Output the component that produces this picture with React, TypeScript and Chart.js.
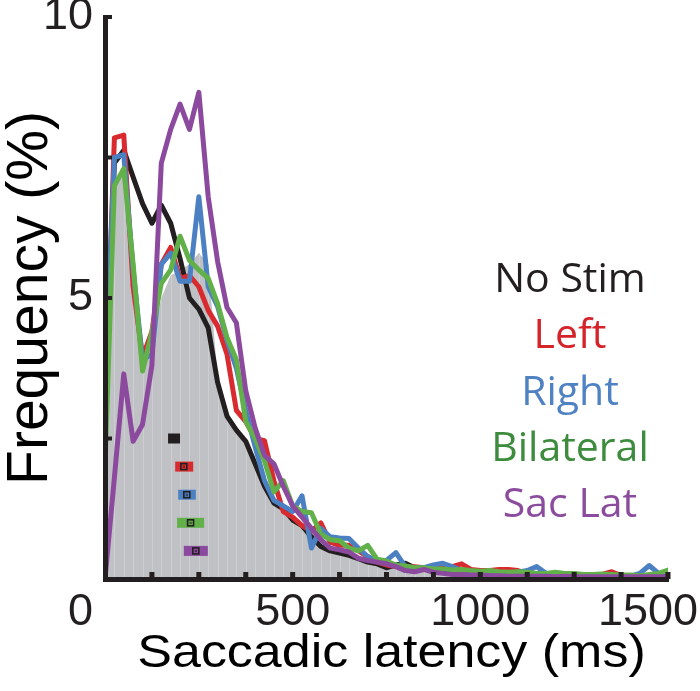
import React, { useEffect, useRef } from "react";
import { Chart, registerables } from "chart.js";

Chart.register(...registerables);

// Bin positions (ms)
const latencyMs = [
  0, 25, 50, 75, 100, 125, 150, 175, 200, 225, 250, 275, 300, 325, 350, 375, 400, 425, 450, 475,
  500, 525, 550, 575, 600, 625, 650, 675, 700, 725, 750, 775, 800, 825, 850, 875, 900, 925, 950, 975,
  1000, 1025, 1050, 1075, 1100, 1125, 1150, 1175, 1200, 1225, 1250, 1275, 1300, 1325, 1350, 1375, 1400, 1425, 1450, 1475,
  1500,
];

// Gray background distribution (%)
const grayArea = [
  3.5, 7.0, 7.2, 5.3, 3.7, 4.2, 5.0, 5.4, 5.5, 5.6, 5.8, 5.6, 3.6, 2.9, 2.65, 2.45, 2.05, 1.65, 1.35, 1.2,
  1.05, 0.9, 0.72, 0.55, 0.48, 0.45, 0.4, 0.33, 0.28, 0.24, 0.2,
  0.2, 0.18, 0.16, 0.15, 0.14, 0.13, 0.12, 0.11, 0.1, 0.1, 0.09, 0.09, 0.08, 0.08, 0.08, 0.07, 0.07, 0.07, 0.06, 0.06,
  0.06, 0.06, 0.05, 0.05, 0.05, 0.05, 0.05, 0.05, 0.05, 0.05,
];

const noStim = [
  3.0, 7.4, 7.63, 7.15, 6.68, 6.33, 6.65, 6.33, 5.7, 5.0, 4.8, 4.47, 3.5, 2.9, 2.65, 2.45, 2.05, 1.65, 1.35, 1.25,
  1.05, 0.95, 0.75, 0.58, 0.5, 0.46, 0.42, 0.36, 0.3, 0.27, 0.2,
  0.25, 0.28, 0.2, 0.2, 0.17, 0.18, 0.15, 0.14, 0.13, 0.12, 0.12, 0.1, 0.1, 0.1, 0.08, 0.09, 0.08, 0.07, 0.08, 0.07,
  0.06, 0.07, 0.06, 0.06, 0.05, 0.06, 0.05, 0.05, 0.05, 0.05,
];

const leftStim = [
  3.0, 7.85, 7.9, 5.2, 3.95, 4.4, 5.6, 5.9, 5.35, 5.4, 5.2, 4.78, 4.5, 4.0, 3.0, 2.8, 2.5, 2.46, 1.75, 1.2,
  1.1, 0.95, 0.85, 1.0, 0.65, 0.6, 0.6, 0.5, 0.4, 0.3, 0.25,
  0.22, 0.2, 0.22, 0.2, 0.18, 0.2, 0.22, 0.27, 0.17, 0.15, 0.15, 0.17, 0.17, 0.15, 0.1, 0.1, 0.08, 0.1, 0.08, 0.08,
  0.06, 0.07, 0.08, 0.13, 0.06, 0.06, 0.05, 0.06, 0.05, 0.08,
];

const rightStim = [
  3.5, 7.5, 7.55, 5.5, 3.9, 4.0, 5.6, 5.8, 5.3, 5.3, 6.8, 5.2, 4.85, 4.25, 3.75, 3.0, 2.35, 1.75, 1.4, 1.3,
  1.2, 1.48, 0.55, 0.9, 0.75, 0.73, 0.72, 0.55, 0.4, 0.32, 0.33,
  0.47, 0.22, 0.2, 0.2, 0.25, 0.28, 0.22, 0.15, 0.12, 0.1, 0.12, 0.1, 0.08, 0.12, 0.15, 0.22, 0.1, 0.08, 0.1, 0.08,
  0.07, 0.08, 0.06, 0.05, 0.06, 0.05, 0.1, 0.24, 0.1, 0.08,
];

const bilateralStim = [
  2.0, 7.0, 7.3, 5.6, 3.7, 4.4, 5.26, 5.5, 6.1, 5.67, 5.5, 5.35, 4.9, 4.3, 3.9, 2.8, 2.5, 2.1, 1.55, 1.75,
  1.3, 1.2, 1.18, 0.8, 0.7, 0.68, 0.55, 0.5, 0.6, 0.35, 0.32,
  0.25, 0.23, 0.2, 0.2, 0.18, 0.18, 0.16, 0.17, 0.15, 0.14, 0.15, 0.13, 0.12, 0.13, 0.12, 0.1, 0.1, 0.12, 0.1, 0.1,
  0.08, 0.08, 0.09, 0.08, 0.07, 0.07, 0.06, 0.08, 0.1, 0.16,
];

const sacLat = [
  0, 1.8, 3.65, 2.45, 2.75, 3.8, 7.4, 8.0, 8.45, 8.0, 8.66, 6.8, 5.65, 4.83, 4.56, 3.35, 2.69, 2.2, 2.05, 1.65,
  1.3, 1.1, 0.9, 0.7, 0.55, 0.52, 0.48, 0.37, 0.33, 0.3, 0.27,
  0.22, 0.15, 0.13, 0.17, 0.12, 0.1, 0.08, 0.08, 0.07, 0.07, 0.06, 0.06, 0.05, 0.05, 0.05, 0.05, 0.05, 0.04, 0.05, 0.04,
  0.04, 0.04, 0.04, 0.04, 0.04, 0.04, 0.04, 0.04, 0.04, 0.04,
];

const seriesNames = ["No Stim", "Left", "Right", "Bilateral", "Sac Lat"];
const lineColors = ["#231f20", "#d92b2f", "#4b81c2", "#62b04a", "#8c4a9f"];
const textColors = ["#231f20", "#d42329", "#4f82c3", "#3d8b3d", "#8b4c9e"];

// Median latency markers (ms) with interval bounds, plotted at given heights (%)
const markerMid = [184, 210, 218, 228, 242];
const markerLo = [168, 187, 195, 192, 210];
const markerHi = [200, 235, 242, 264, 274];
const markerY = [2.5, 2.0, 1.5, 1.0, 0.5];

const xTickMarks = [125, 250, 375, 500, 625, 750, 875, 1000, 1125, 1250, 1375, 1500];
const xTickLabels = [0, 500, 1000, 1500];
const yTickMarks = [2.5, 5, 7.5, 10];
const yTickLabels = [5, 10];
const xTitle = "Saccadic latency (ms)";
const yTitle = "Frequency (%)";

const AXIS = "#231f20";
const SANS = '"Liberation Sans", Arial, sans-serif';
const TICK_FONT = `45px ${SANS}`;

const overlay = {
  id: "overlay",
  afterDatasetDraw(chart: any, args: any) {
    if (args.index !== 0) return;
    const { ctx, scales } = chart;
    const xs = scales.x, ys = scales.y;
    ctx.save();
    ctx.strokeStyle = "#cdced1";
    ctx.lineWidth = 1;
    const y0 = ys.getPixelForValue(0);
    for (let i = 1; i < latencyMs.length - 1; i++) {
      const x = Math.round(xs.getPixelForValue(latencyMs[i])) + 0.5;
      const yt = ys.getPixelForValue(grayArea[i]);
      ctx.beginPath();
      ctx.moveTo(x, y0);
      ctx.lineTo(x, yt);
      ctx.stroke();
    }
    ctx.restore();
  },
  afterDatasetsDraw(chart: any) {
    const { ctx, scales, chartArea, width } = chart;
    const xs = scales.x, ys = scales.y;
    ctx.save();

    // markers
    for (let i = 0; i < markerMid.length; i++) {
      const x0 = xs.getPixelForValue(markerLo[i]);
      const x1 = xs.getPixelForValue(markerHi[i]);
      const xm = xs.getPixelForValue(markerMid[i]);
      const y = ys.getPixelForValue(markerY[i]);
      ctx.fillStyle = lineColors[i];
      ctx.fillRect(x0, y - 5, x1 - x0, 10);
      if (i > 0) {
        ctx.strokeStyle = "#231f20";
        ctx.lineWidth = 1.6;
        ctx.strokeRect(xm - 3, y - 3, 6, 6);
        ctx.fillStyle = "#231f20";
        ctx.fillRect(xm - 1, y - 1, 2, 2);
        ctx.fillStyle = lineColors[i];
        ctx.fillRect(xm - 0.5, y - 0.5, 1, 1);
      }
    }

    // inward tick marks
    ctx.fillStyle = AXIS;
    for (const v of yTickMarks) {
      const y = ys.getPixelForValue(v);
      ctx.fillRect(chartArea.left, y - 2, 7, 4);
    }
    for (const v of xTickMarks) {
      const x = xs.getPixelForValue(v);
      ctx.fillRect(x - 2.5, chartArea.bottom - 7, 5, 7);
    }

    // x tick labels
    ctx.font = TICK_FONT;
    ctx.fillStyle = AXIS;
    ctx.textBaseline = "alphabetic";
    ctx.textAlign = "left";
    xTickLabels.forEach((v, i) => {
      const label = String(v);
      const w = ctx.measureText(label).width;
      let cx = xs.getPixelForValue(v);
      if (i === 0) cx = Math.min(cx, chartArea.left - 12 - w / 2);
      if (i === xTickLabels.length - 1) cx = Math.min(cx, width - 2 - w / 2);
      ctx.fillText(label, cx - w / 2, chartArea.bottom + 46);
    });

    // x axis title (slightly wide lettering, as in the original)
    ctx.save();
    ctx.font = `46px ${SANS}`;
    ctx.fillStyle = "#000";
    ctx.textAlign = "center";
    ctx.textBaseline = "alphabetic";
    ctx.translate((chartArea.left + chartArea.right) / 2 + 5, chartArea.bottom + 88);
    ctx.scale(1.13, 1);
    ctx.fillText(xTitle, 0, 0);
    ctx.restore();

    // legend text
    ctx.font = '41px "Open Sans", sans-serif';
    ctx.textAlign = "center";
    ctx.textBaseline = "alphabetic";
    const lx = 570;
    seriesNames.forEach((name, i) => {
      ctx.fillStyle = textColors[i];
      ctx.fillText(name, lx, 292 + i * 56.3);
    });
    ctx.restore();
  },
};

export default function App() {
  const ref = useRef<HTMLCanvasElement>(null);
  useEffect(() => {
    const canvas = ref.current!;
    const pts = (vals: number[]) => vals.map((y, i) => ({ x: latencyMs[i], y }));
    const lineDs = (label: string, vals: number[], color: string, order: number) => ({
      label,
      data: pts(vals),
      borderColor: color,
      backgroundColor: color,
      borderWidth: 5,
      pointRadius: 0,
      fill: false,
      tension: 0,
      order,
      borderJoinStyle: "round",
      borderCapStyle: "round",
    });
    const chart = new Chart(canvas, {
      type: "line",
      data: {
        datasets: [
          {
            label: "All",
            data: pts(grayArea),
            borderColor: "rgba(0,0,0,0)",
            borderWidth: 0,
            backgroundColor: "#c0c1c4",
            fill: "origin",
            pointRadius: 0,
            tension: 0,
            order: 10,
          } as any,
          lineDs(seriesNames[0], noStim, lineColors[0], 5),
          lineDs(seriesNames[1], leftStim, lineColors[1], 4),
          lineDs(seriesNames[2], rightStim, lineColors[2], 3),
          lineDs(seriesNames[3], bilateralStim, lineColors[3], 2),
          lineDs(seriesNames[4], sacLat, lineColors[4], 1),
        ],
      },
      options: {
        animation: false,
        responsive: false,
        events: [],
        layout: { padding: { left: 0, right: 32, top: 17, bottom: 0 } },
        plugins: { legend: { display: false }, tooltip: { enabled: false } },
        scales: {
          x: {
            type: "linear",
            min: 0,
            max: 1500,
            grid: { display: false, drawTicks: false },
            border: { display: true, color: AXIS, width: 5, z: 1 },
            ticks: { display: false, stepSize: 125 },
            title: { display: false, text: xTitle },
            afterFit: (s: any) => {
              s.height = 112;
              s.paddingLeft = 0;
              s.paddingRight = 0;
            },
          },
          y: {
            min: 0,
            max: 10,
            grid: { display: false, drawTicks: false },
            border: { display: true, color: AXIS, width: 5, z: 1 },
            ticks: {
              stepSize: 2.5,
              padding: 12,
              color: AXIS,
              font: { family: SANS, size: 45 },
              callback: (v: any) => (yTickLabels.includes(Number(v)) ? String(v) : ""),
            },
            title: {
              display: true,
              text: yTitle,
              color: "#000",
              font: { family: SANS, size: 57, lineHeight: 1 },
              padding: { top: 3, bottom: 0 },
            },
            afterFit: (s: any) => {
              s.width = 105;
              s.paddingTop = 0;
              s.paddingBottom = 0;
            },
          },
        },
      },
      plugins: [overlay],
    } as any);
    return () => chart.destroy();
  }, []);
  return (
    <div style={{ position: "absolute", left: 0, top: 0, width: 700, height: 691, background: "#fff" }}>
      <canvas ref={ref} width={700} height={691} style={{ display: "block", width: 700, height: 691 }} />
    </div>
  );
}
